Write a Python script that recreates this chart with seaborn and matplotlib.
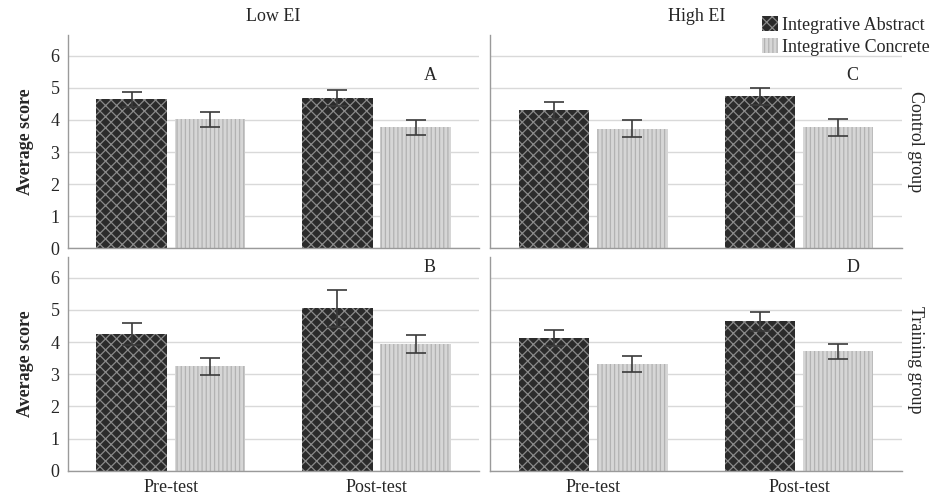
import numpy as np
import pandas as pd
import matplotlib
matplotlib.use("Agg")
import matplotlib.pyplot as plt
from matplotlib.patches import Patch
import seaborn as sns

# data
ei_levels = ["Low EI", "High EI"]
groups = ["Control group", "Training group"]
tests = ["Pre-test", "Post-test"]
types = ["Integrative Abstract", "Integrative Concrete"]
panel_letters = {("Low EI", "Control group"): "A", ("High EI", "Control group"): "C",
                 ("Low EI", "Training group"): "B", ("High EI", "Training group"): "D"}

# order within each panel: Pre-abs, Pre-con, Post-abs, Post-con
mean_A = [4.64, 4.02, 4.68, 3.77]
err_A = [0.24, 0.24, 0.24, 0.23]
mean_B = [4.24, 3.25, 5.05, 3.93]
err_B = [0.34, 0.26, 0.57, 0.28]
mean_C = [4.30, 3.73, 4.73, 3.77]
err_C = [0.27, 0.26, 0.26, 0.26]
mean_D = [4.13, 3.32, 4.65, 3.71]
err_D = [0.24, 0.26, 0.29, 0.22]

rows = []
for letter, means, errs in [("A", mean_A, err_A), ("B", mean_B, err_B),
                            ("C", mean_C, err_C), ("D", mean_D, err_D)]:
    ei, grp = [k for k, v in panel_letters.items() if v == letter][0]
    i = 0
    for t in tests:
        for ty in types:
            rows.append({"EI": ei, "Group": grp, "Test": t, "Type": ty,
                         "Score": means[i], "Err": errs[i]})
            i += 1
df = pd.DataFrame(rows)

sns.set_style("white")
plt.rcParams["font.family"] = ["Liberation Serif", "DejaVu Serif"]
plt.rcParams["hatch.linewidth"] = 0.9

styles = {
    "Integrative Abstract": dict(face="#2b2b2b", hatch="xxx", hcol="#8a8a8a"),
    "Integrative Concrete": dict(face="#d6d6d6", hatch="||||", hcol="#b2b2b2"),
}

fig, axes = plt.subplots(2, 2, figsize=(9.43, 4.98), dpi=100, sharey=True)
fig.subplots_adjust(left=0.072, right=0.9565, top=0.9297, bottom=0.0548,
                    wspace=0.027, hspace=0.041)

for r, grp in enumerate(groups):
    for c, ei in enumerate(ei_levels):
        ax = axes[r, c]
        sub = df[(df["EI"] == ei) & (df["Group"] == grp)]
        sns.barplot(data=sub, x="Test", y="Score", hue="Type", order=tests,
                    hue_order=types, errorbar=None, width=0.76, gap=0.1,
                    palette=[styles[t]["face"] for t in types], ax=ax, legend=False,
                    zorder=2)
        for cont, ty in zip(ax.containers, types):
            st = styles[ty]
            part = sub[sub["Type"] == ty].set_index("Test").loc[tests]
            xs = []
            for bar in cont:
                bar.set_facecolor(st["face"])
                bar.set_edgecolor(st["hcol"])
                bar.set_linewidth(0)
                bar.set_hatch(st["hatch"])
                xs.append(bar.get_x() + bar.get_width() / 2)
            ax.errorbar(xs, part["Score"].values, yerr=part["Err"].values,
                        fmt="none", ecolor="#3a3a3a", elinewidth=1.2,
                        capsize=7, capthick=1.2, zorder=3)
        ax.set_ylim(0, 6.64)
        ax.set_xlim(-0.5, 1.5)
        ax.set_yticks(range(7))
        ax.yaxis.grid(True, color="#d9d9d9", linewidth=1.0, zorder=0)
        ax.set_axisbelow(True)
        for s in ["top", "right"]:
            ax.spines[s].set_visible(False)
        for s in ["left", "bottom"]:
            ax.spines[s].set_color("#9a9a9a")
            ax.spines[s].set_linewidth(1.0)
        ax.tick_params(length=0, labelsize=13, pad=6)
        ax.set_xlabel("")
        if c == 0:
            ax.set_ylabel("Average score", fontsize=13, fontweight="bold", labelpad=12)
        else:
            ax.set_ylabel("")
            ax.tick_params(labelleft=False)
        if r == 0:
            ax.set_title(ei, fontsize=13, pad=10)
            ax.tick_params(labelbottom=False)
        letter = panel_letters[(ei, grp)]
        ly = 5.38 if r == 0 else 6.32
        ax.text(1.26, ly, letter, ha="center", va="center", fontsize=13)

fig.text(0.971, 0.715, "Control group", rotation=270, ha="center", va="center", fontsize=13)
fig.text(0.971, 0.277, "Training group", rotation=270, ha="center", va="center", fontsize=13)

handles = [Patch(facecolor=styles[t]["face"], edgecolor=styles[t]["hcol"],
                 linewidth=0, hatch=styles[t]["hatch"], label=t) for t in types]
fig.legend(handles=handles, loc="upper right", bbox_to_anchor=(0.997, 0.99),
           frameon=False, fontsize=13, handlelength=0.9, handleheight=0.9,
           handletextpad=0.2, labelspacing=0.25, borderaxespad=0.2)

fig.savefig("out.png", dpi=100)
